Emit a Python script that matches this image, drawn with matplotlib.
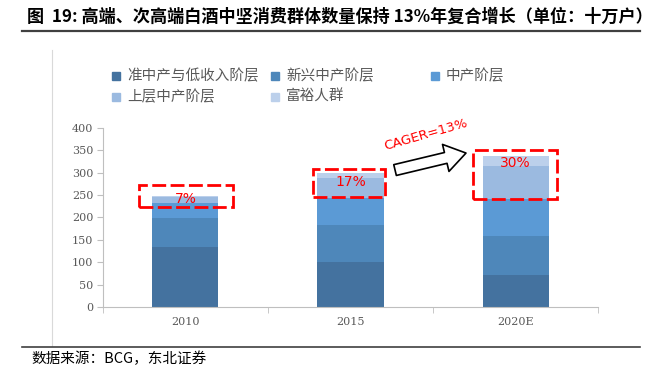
import matplotlib
matplotlib.use('Agg')
import matplotlib.pyplot as plt
from matplotlib.patches import Rectangle
from matplotlib.lines import Line2D

plt.rcParams['font.family'] = ['Noto Sans CJK SC', 'DejaVu Sans']

# data (unit: 十万户)
years = ['2010', '2015', '2020E']
series = ['准中产与低收入阶层', '新兴中产阶层', '中产阶层', '上层中产阶层', '富裕人群']
low_income = [135, 100, 72]
emerging = [63, 83, 87]
middle = [35, 61, 82]
upper_middle = [13, 45, 74]
affluent = [2, 11, 23]
share_labels = ['7%', '17%', '30%']
colors = ['#44729F', '#4E87BA', '#5B9AD5', '#9BBAE0', '#BCD0EB']

# dashed highlight boxes around the top layers
box_x0 = [-0.28, -0.23, -0.26]
box_x1 = [0.29, 0.21, 0.25]
box_lo = [223, 245, 241]
box_hi = [273, 308, 351]
label_y = [241, 279, 322]

fig = plt.figure(figsize=(6.56, 3.71), dpi=100)
ax = fig.add_axes([0.157, 0.1725, 0.7546, 0.4825])

values = [low_income, emerging, middle, upper_middle, affluent]
x = range(len(years))
bottom = [0, 0, 0]
for vals, c in zip(values, colors):
    ax.bar(x, vals, width=0.4, bottom=bottom, color=c, edgecolor='none', zorder=2)
    bottom = [b + v for b, v in zip(bottom, vals)]

ax.set_xlim(-0.5, 2.5)
ax.set_ylim(0, 400)
ax.set_yticks(range(0, 401, 50))
ax.set_xticks(list(x))
ax.set_xticks([-0.5, 0.5, 1.5, 2.5], minor=True)
ax.set_xticklabels(years)
for sp in ['top', 'right']:
    ax.spines[sp].set_visible(False)
for sp in ['left', 'bottom']:
    ax.spines[sp].set_color('#BFBFBF')
ax.tick_params(axis='x', which='major', length=0, pad=7)
ax.tick_params(axis='x', which='minor', length=4, color='#BFBFBF')
ax.tick_params(axis='y', length=4, color='#BFBFBF', pad=3)
for lab in ax.get_xticklabels() + ax.get_yticklabels():
    lab.set_family('DejaVu Serif')
    lab.set_fontsize(8)
    lab.set_color('#595959')

# red dashed boxes + share labels
for i in range(len(years)):
    ax.add_patch(Rectangle((i + box_x0[i], box_lo[i]), box_x1[i] - box_x0[i], box_hi[i] - box_lo[i],
                           fill=False, edgecolor='#FF0000', lw=2, linestyle=(0, (5, 1.6)), zorder=4))
    ax.text(i, label_y[i], share_labels[i], color='#FF0000', fontsize=10,
            family='DejaVu Sans', ha='center', va='center', zorder=5)

# CAGER arrow
ax.annotate('', xy=(1.70, 344), xytext=(1.27, 306),
            arrowprops=dict(arrowstyle='simple,head_width=2.0,head_length=1.5,tail_width=0.8',
                            mutation_scale=10, fc='white', ec='black', lw=1.2, shrinkA=0, shrinkB=0),
            zorder=5)
ax.text(1.455, 384, 'CAGER=13%', color='#FF0000', fontsize=9.5, family='DejaVu Sans',
        rotation=16, ha='center', va='center', rotation_mode='anchor')

# legend, drawn row by row
leg_x = [116, 275, 435, 116, 275]
leg_y = [76, 76, 76, 97, 97]
W, H = 656, 371
for name, c, lx, ly in zip(series, colors, leg_x, leg_y):
    fig.add_artist(Rectangle(((lx - 4) / W, 1 - (ly + 4) / H), 8 / W, 8 / H,
                             transform=fig.transFigure, color=c))
    fig.text((lx + 11) / W, 1 - ly / H, name, fontsize=10.5, color='#595959', va='center')

# title, rules and source
fig.text(27 / W, 1 - 17 / H, '图  19: 高端、次高端白酒中坚消费群体数量保持 13%年复合增长（单位：十万户）',
         fontsize=12.3, fontweight='bold', color='black', va='center')
fig.add_artist(Line2D([22 / W, 640 / W], [1 - 31 / H, 1 - 31 / H], color='#404040', lw=1.6))
fig.add_artist(Line2D([52 / W, 52 / W], [1 - 50 / H, 1 - 346 / H], color='#D9D9D9', lw=0.8))
fig.add_artist(Line2D([22 / W, 640 / W], [1 - 347 / H, 1 - 347 / H], color='#404040', lw=1.2))
fig.text(31 / W, 1 - 359 / H, '数据来源：BCG，东北证券', fontsize=10.5, color='black', va='center')

fig.savefig('out.png', dpi=100)
